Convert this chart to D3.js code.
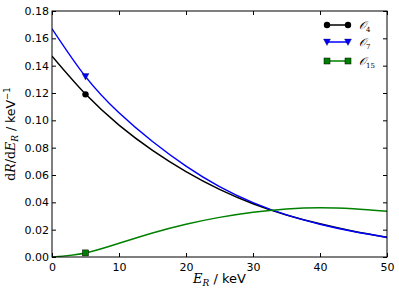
<!DOCTYPE html>
<html>
<head>
<meta charset="utf-8">
<script src="https://cdn.jsdelivr.net/npm/d3@7"></script>
<style>
  body { margin: 0; background: #fff; }
  text { font-family: "DejaVu Sans", sans-serif; }
</style>
</head>
<body>
<div id="chart"></div>
<script>
const width = 399;
const height = 294;

// recoil energy grid (keV)
const energies = [0, 5, 10, 15, 20, 25, 30, 35, 40, 45, 50];

// dR/dE_R for each operator
const o4 = [0.147, 0.1192, 0.0965, 0.078, 0.0625, 0.0495, 0.0390, 0.0308, 0.0243, 0.0189, 0.0145];
const o7 = [0.167, 0.132, 0.1055, 0.0845, 0.0665, 0.0515, 0.0398, 0.0308, 0.0240, 0.0186, 0.0143];
const o15 = [0, 0.003, 0.0100, 0.0176, 0.0240, 0.0290, 0.0328, 0.0352, 0.0361, 0.0353, 0.0335];

// marker positions
const markE = 5;
const markO4 = 0.119;
const markO7 = 0.132;
const markO15 = 0.003;

const xTicks = [0, 10, 20, 30, 40, 50];
const yTicks = [0, 0.02, 0.04, 0.06, 0.08, 0.10, 0.12, 0.14, 0.16, 0.18];

const series = [
  { name: "4", values: o4, mark: markO4, color: "#000000", symbol: "circle" },
  { name: "7", values: o7, mark: markO7, color: "#0000ff", symbol: "tri" },
  { name: "15", values: o15, mark: markO15, color: "#008000", symbol: "square" }
];

const margin = { left: 52, right: 12, top: 11, bottom: 37 };

const x = d3.scaleLinear().domain([0, 50]).range([margin.left, width - margin.right]);
const y = d3.scaleLinear().domain([0, 0.18]).range([height - margin.bottom, margin.top]);

const svg = d3.select("#chart").append("svg")
  .attr("width", width)
  .attr("height", height);

const line = d3.line()
  .x((d, i) => x(energies[i]))
  .y(d => y(d))
  .curve(d3.curveNatural);

svg.append("clipPath").attr("id", "clip")
  .append("rect")
  .attr("x", x(0)).attr("y", y(0.18))
  .attr("width", x(50) - x(0)).attr("height", y(0) - y(0.18));

const plot = svg.append("g").attr("clip-path", "url(#clip)");

series.forEach(s => {
  plot.append("path")
    .attr("d", line(s.values))
    .attr("fill", "none")
    .attr("stroke", s.color)
    .attr("stroke-width", 1.5);
});

function drawMarker(g, sym, cx, cy, color) {
  if (sym === "circle") {
    g.append("circle").attr("cx", cx).attr("cy", cy).attr("r", 3.2).attr("fill", color);
  } else if (sym === "square") {
    g.append("rect").attr("x", cx - 3).attr("y", cy - 3).attr("width", 6).attr("height", 6)
      .attr("fill", color).attr("stroke", "#000").attr("stroke-width", 0.5);
  } else {
    g.append("path")
      .attr("d", `M${cx - 3.5},${cy - 3} L${cx + 3.5},${cy - 3} L${cx},${cy + 3.5} Z`)
      .attr("fill", color).attr("stroke", "#000").attr("stroke-width", 0.3);
  }
}

series.forEach(s => drawMarker(svg, s.symbol, x(markE), y(s.mark), s.color));

// frame and inward ticks on all sides
const tickLen = 4;
const axB = svg.append("g").attr("transform", `translate(0,${y(0)})`)
  .call(d3.axisBottom(x).tickValues(xTicks).tickSizeInner(-tickLen).tickSizeOuter(0).tickPadding(4));
const axT = svg.append("g").attr("transform", `translate(0,${y(0.18)})`)
  .call(d3.axisTop(x).tickValues(xTicks).tickSizeInner(-tickLen).tickSizeOuter(0).tickFormat(""));
const axL = svg.append("g").attr("transform", `translate(${x(0)},0)`)
  .call(d3.axisLeft(y).tickValues(yTicks).tickSizeInner(-tickLen).tickSizeOuter(0).tickPadding(3).tickFormat(d3.format(".2f")));
const axR = svg.append("g").attr("transform", `translate(${x(50)},0)`)
  .call(d3.axisRight(y).tickValues(yTicks).tickSizeInner(-tickLen).tickSizeOuter(0).tickFormat(""));

[axB, axT, axL, axR].forEach(a => {
  a.select(".domain").remove();
  a.selectAll("text").attr("font-size", 11).attr("fill", "#000").attr("font-family", "DejaVu Sans");
  a.selectAll("line").attr("stroke", "#000");
});
axB.selectAll("text").attr("dy", "0.9em");

svg.append("rect")
  .attr("x", x(0)).attr("y", y(0.18))
  .attr("width", x(50) - x(0)).attr("height", y(0) - y(0.18))
  .attr("fill", "none").attr("stroke", "#000").attr("stroke-width", 1);

// axis labels
const xl = svg.append("text")
  .attr("x", (x(0) + x(50)) / 2).attr("y", 283)
  .attr("text-anchor", "middle").attr("font-size", 13);
xl.append("tspan").attr("font-family", "DejaVu Serif").attr("font-style", "italic").text("E");
xl.append("tspan").attr("font-family", "DejaVu Serif").attr("font-style", "italic").attr("font-size", 9).attr("dy", 3).text("R");
xl.append("tspan").attr("dy", -3).text(" / keV");

const yl = svg.append("text")
  .attr("transform", `translate(15,${(y(0) + y(0.18)) / 2}) rotate(-90)`)
  .attr("text-anchor", "middle").attr("font-size", 12.5);
yl.append("tspan").attr("font-family", "DejaVu Serif").text("d");
yl.append("tspan").attr("font-family", "DejaVu Serif").attr("font-style", "italic").text("R");
yl.append("tspan").attr("font-family", "DejaVu Serif").text("/d");
yl.append("tspan").attr("font-family", "DejaVu Serif").attr("font-style", "italic").text("E");
yl.append("tspan").attr("font-family", "DejaVu Serif").attr("font-style", "italic").attr("font-size", 9).attr("dy", 3).text("R");
yl.append("tspan").attr("dy", -3).text(" / keV");
yl.append("tspan").attr("font-size", 8.5).attr("dy", -5).text("\u22121");

// legend
const legend = svg.append("g");
const legRows = [25, 42, 61];
series.forEach((s, i) => {
  const ly = legRows[i];
  const x0 = 327, x1 = 348;
  legend.append("line").attr("x1", x0).attr("x2", x1).attr("y1", ly).attr("y2", ly)
    .attr("stroke", s.color).attr("stroke-width", 1.5);
  drawMarker(legend, s.symbol, x0, ly, s.color);
  drawMarker(legend, s.symbol, x1, ly, s.color);
  const t = legend.append("text").attr("x", 359).attr("y", ly + 4).attr("font-size", 11);
  t.append("tspan").attr("font-family", "DejaVu Serif").attr("font-style", "italic").text("\u{1D4AA}");
  t.append("tspan").attr("font-family", "DejaVu Serif").attr("font-size", 7).attr("dy", 3).text(s.name);
});
</script>
</body>
</html>
